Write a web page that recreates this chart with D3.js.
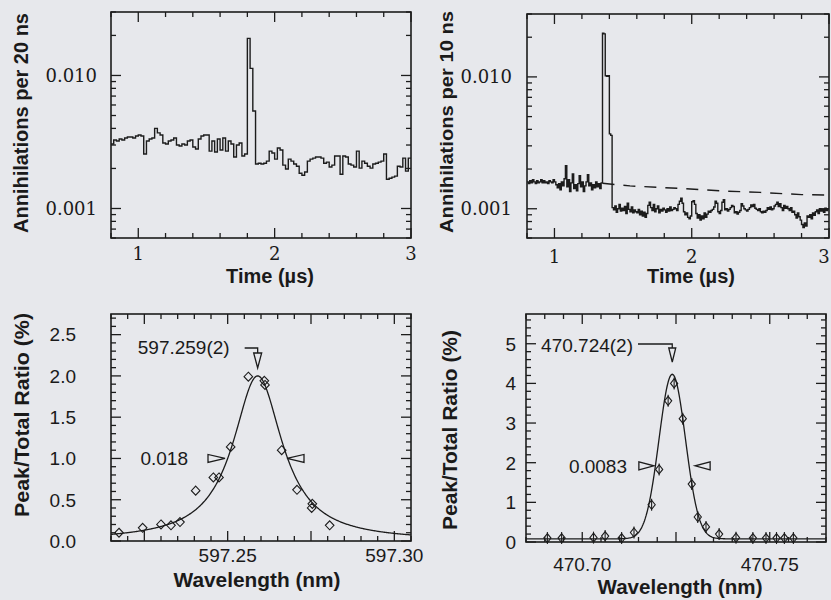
<!DOCTYPE html>
<html>
<head>
<meta charset="utf-8">
<title>annihilation spectra</title>
<style>
  html, body { margin: 0; padding: 0; background: #e7e8ec; }
  svg { display: block; }
  .title { font-family: "Liberation Sans", Arial, sans-serif; font-weight: bold; fill: #1a1a1a; }
  .serif { font-family: "DejaVu Serif", serif; font-size: 18px; fill: #1a1a1a; }
  .sans { font-family: "Liberation Sans", Arial, sans-serif; font-size: 19px; fill: #1a1a1a; }
</style>
</head>
<body>
<svg width="831" height="600"></svg>
<script src="https://cdn.jsdelivr.net/npm/d3@7"></script>
<script>
// top left: annihilations per 20 ns bin, from 0.8 us
const binA = 0.02, startA = 0.8;
const countsA = [
  0.00305, 0.00327, 0.00322, 0.00333, 0.00327, 0.00339, 0.00345, 0.00345, 0.00339, 0.00351,
  0.00357, 0.00351, 0.00257, 0.00322, 0.00333, 0.00339, 0.00400, 0.00370, 0.00357, 0.00311,
  0.00305, 0.00322, 0.00327, 0.00339, 0.00300, 0.00295, 0.00305, 0.00300, 0.00322, 0.00327,
  0.00290, 0.00280, 0.00333, 0.00351, 0.00357, 0.00357, 0.00270, 0.00322, 0.00266, 0.00333,
  0.00275, 0.00339, 0.00270, 0.00322, 0.00305, 0.00244, 0.00300, 0.00311, 0.00248, 0.00257,
  0.0190, 0.0113, 0.0054,
  0.00216, 0.00219, 0.00216, 0.00219, 0.00227, 0.00270, 0.00261, 0.00235, 0.00285, 0.00275,
  0.00212, 0.00198, 0.00235, 0.00227, 0.00216, 0.00208, 0.00184, 0.00178, 0.00188, 0.00227,
  0.00235, 0.00239, 0.00244, 0.00244, 0.00239, 0.00219, 0.00223, 0.00205, 0.00212, 0.00248,
  0.00248, 0.00181, 0.00248, 0.00244, 0.00216, 0.00212, 0.00205, 0.00270, 0.00201, 0.00227,
  0.00219, 0.00208, 0.00201, 0.00216, 0.00219, 0.00223, 0.00227, 0.00257, 0.00166, 0.00169,
  0.00172, 0.00175, 0.00208, 0.00205, 0.00239, 0.00191, 0.00239
];

// top right: annihilations per 10 ns bin, from 0.8 us
const binB = 0.01, startB = 0.8;
const countsB = [
  0.00160, 0.00155, 0.00163, 0.00157, 0.00166, 0.00160, 0.00155, 0.00163, 0.00157, 0.00160,
  0.00166, 0.00157, 0.00163, 0.00157, 0.00160, 0.00155, 0.00163, 0.00160, 0.00157, 0.00166,
  0.00160, 0.00152, 0.00144, 0.00155, 0.00139, 0.00160, 0.00149, 0.00169, 0.00212, 0.00147,
  0.00166, 0.00135, 0.00157, 0.00184, 0.00142, 0.00152, 0.00137, 0.00155, 0.00178, 0.00147,
  0.00160, 0.00135, 0.00149, 0.00160, 0.00181, 0.00149, 0.00157, 0.00139, 0.00152, 0.00144,
  0.00160, 0.00147, 0.00155, 0.00142, 0.00157,
  0.0215, 0.0212, 0.0102, 0.0101, 0.0102, 0.0037, 0.0036,
  0.00102, 0.00098, 0.00105, 0.00094, 0.00100, 0.00108, 0.00096, 0.00101,
  0.00097, 0.00104, 0.00092, 0.00110, 0.00099, 0.00095, 0.00103, 0.00093, 0.00098, 0.00095,
  0.00093, 0.00099, 0.00090, 0.00096, 0.00088, 0.00094, 0.00086, 0.00092, 0.00106, 0.00112,
  0.00102, 0.00097, 0.00108, 0.00095, 0.00100, 0.00105, 0.00093, 0.00099, 0.00096, 0.00101,
  0.00098, 0.00094, 0.00100, 0.00096, 0.00103, 0.00097, 0.00099, 0.00102, 0.00100, 0.00097,
  0.00108, 0.00114, 0.00120, 0.00110, 0.00095, 0.00090, 0.00093, 0.00086, 0.00084, 0.00088,
  0.00113, 0.00115, 0.00108, 0.00092, 0.00085, 0.00090, 0.00082, 0.00088, 0.00084, 0.00093,
  0.00086, 0.00091, 0.00096, 0.00094, 0.00097, 0.00099, 0.00103, 0.00114, 0.00110, 0.00095,
  0.00092, 0.00097, 0.00112, 0.00117, 0.00098, 0.00100, 0.00096, 0.00099, 0.00102, 0.00106,
  0.00104, 0.00093, 0.00095, 0.00091, 0.00094, 0.00097, 0.00109, 0.00105, 0.00100, 0.00098,
  0.00096, 0.00099, 0.00102, 0.00107, 0.00104, 0.00108, 0.00101, 0.00099, 0.00097, 0.00100,
  0.00095, 0.00093, 0.00096, 0.00094, 0.00097, 0.00102, 0.00099, 0.00103, 0.00098, 0.00100,
  0.00105, 0.00108, 0.00112, 0.00104, 0.00109, 0.00102, 0.00097, 0.00106, 0.00101, 0.00104,
  0.00100, 0.00097, 0.00102, 0.00094, 0.00096, 0.00090, 0.00085, 0.00093, 0.00087, 0.00082,
  0.00076, 0.00072, 0.00078, 0.00074, 0.00088, 0.00086, 0.00090, 0.00084, 0.00093, 0.00089,
  0.00095, 0.00098, 0.00092, 0.00100, 0.00096, 0.00099, 0.00094, 0.00101, 0.00097, 0.00100
];
// dashed reference level, top right
const refT = [1.35, 1.55, 1.95, 2.25, 2.5, 2.8, 3.0];
const refV = [0.00156, 0.00149, 0.00142, 0.00136, 0.00133, 0.00128, 0.00127];

// bottom left: measured peak/total ratio (%)
const wlC = [597.2174, 597.2245, 597.2300, 597.2330, 597.2357, 597.2404, 597.2457, 597.2474,
  597.2509, 597.2562, 597.2610, 597.2612, 597.2662, 597.2708, 597.2754, 597.2752, 597.2806];
const ratioC = [0.10, 0.16, 0.20, 0.19, 0.23, 0.61, 0.77, 0.77,
  1.14, 1.99, 1.94, 1.89, 1.10, 0.62, 0.45, 0.40, 0.19];
const fitC = { center: 597.259, fwhm: 0.018, peak: 2.0 };   // lorentzian fit

// bottom right
const wlD = [470.6907, 470.6945, 470.7030, 470.7061, 470.7105, 470.7138, 470.7185, 470.7205,
  470.7229, 470.7245, 470.7268, 470.7292, 470.7308, 470.7330, 470.7365, 470.7410, 470.7455,
  470.7490, 470.7518, 470.7539, 470.7563];
const ratioD = [0.10, 0.10, 0.11, 0.15, 0.10, 0.24, 0.94, 1.83,
  3.56, 4.00, 3.11, 1.46, 0.63, 0.38, 0.20, 0.11, 0.10,
  0.10, 0.10, 0.10, 0.10];
const fitD = { center: 470.724, fwhm: 0.0083, peak: 4.15, base: 0.08 };   // gaussian fit

// ticks / labels
const timeLabels = [1, 2, 3];
const countLabels = [0.001, 0.01];
const ratioLabelsC = [0, 0.5, 1.0, 1.5, 2.0, 2.5];
const ratioLabelsD = [0, 1, 2, 3, 4, 5];
const wlMajorC = [597.225, 597.25, 597.275, 597.30];
const wlLabelsC = [597.25, 597.30];
const wlMajorD = [470.70, 470.725, 470.75];
const wlLabelsD = [470.70, 470.75];
</script>
<script>
const svg = d3.select('svg');
const ink = '#1c1c1c';
const paper = '#e7e8ec';

// panel boxes in px
const A = { x0: 111, x1: 411, y0: 12, y1: 238 };
const B = { x0: 527, x1: 829, y0: 14, y1: 238 };
const C = { x0: 111, x1: 411, y0: 314, y1: 541 };
const D = { x0: 526, x1: 826, y0: 314, y1: 542 };

const near = (a, b) => Math.abs(a - b) < 1e-6;
const steps = (a, b, s) => d3.range(0, Math.round((b - a) / s) + 1).map((i) => a + i * s);

// box with inward ticks on all four sides
function frame(p, x, y, xt, yt) {
  const g = svg.append('g').attr('stroke', ink).attr('fill', 'none');
  xt.forEach(([v, len]) => {
    const px = x(v);
    g.append('line').attr('x1', px).attr('x2', px).attr('y1', p.y1).attr('y2', p.y1 - len).attr('stroke-width', 1.3);
    g.append('line').attr('x1', px).attr('x2', px).attr('y1', p.y0).attr('y2', p.y0 + len).attr('stroke-width', 1.3);
  });
  yt.forEach(([v, len]) => {
    const py = y(v);
    g.append('line').attr('y1', py).attr('y2', py).attr('x1', p.x0).attr('x2', p.x0 + len).attr('stroke-width', 1.3);
    g.append('line').attr('y1', py).attr('y2', py).attr('x1', p.x1).attr('x2', p.x1 - len).attr('stroke-width', 1.3);
  });
  g.append('rect')
    .attr('x', p.x0).attr('y', p.y0)
    .attr('width', p.x1 - p.x0).attr('height', p.y1 - p.y0)
    .attr('stroke-width', 1.6);
}

function title(txt, x, y, size, len, rotate) {
  const t = svg.append('text').attr('class', 'title')
    .attr('text-anchor', 'middle').style('font-size', size + 'px')
    .attr('transform', `translate(${x},${y})` + (rotate ? ' rotate(-90)' : ''))
    .text(txt);
  if (len) t.attr('textLength', len).attr('lengthAdjust', 'spacingAndGlyphs');
}

function histogram(p, x, y, start, bin, counts, id) {
  const pts = counts.map((v, i) => [start + i * bin, v]);
  pts.push([start + counts.length * bin, counts[counts.length - 1]]);
  svg.append('clipPath').attr('id', id).append('rect')
    .attr('x', p.x0).attr('y', p.y0).attr('width', p.x1 - p.x0).attr('height', p.y1 - p.y0);
  svg.append('path')
    .attr('clip-path', `url(#${id})`)
    .attr('d', d3.line().x((d) => x(d[0])).y((d) => y(d[1])).curve(d3.curveStepAfter)(pts))
    .attr('fill', 'none').attr('stroke', ink).attr('stroke-width', 1.4)
    .attr('stroke-linejoin', 'miter');
}

// ---------- top panels ----------
function timePanel(p, counts, start, bin, id) {
  const x = d3.scaleLinear().domain([0.8, 3.0]).range([p.x0, p.x1]);
  const y = d3.scaleLog().domain([0.0006, 0.03]).range([p.y1, p.y0]);
  const xt = steps(0.8, 3.0, 0.2).map((v) => [v, timeLabels.some((m) => near(m, v)) ? 10 : 5]);
  const yt = y.ticks().map((v) => [v, countLabels.some((m) => near(m, v)) ? 10 : 5]);
  frame(p, x, y, xt, yt);
  histogram(p, x, y, start, bin, counts, id);
  return { x, y };
}

const sa = timePanel(A, countsA, startA, binA, 'clipA');
const sb = timePanel(B, countsB, startB, binB, 'clipB');

svg.append('path')
  .attr('d', d3.line().x((d, i) => sb.x(refT[i])).y((d) => sb.y(d))(refV))
  .attr('fill', 'none').attr('stroke', ink).attr('stroke-width', 1.4)
  .attr('stroke-dasharray', '12,9');

[[A, sa, 97, 260], [B, sb, 512, 263]].forEach(([p, s, lx, by]) => {
  countLabels.forEach((v) => {
    svg.append('text').attr('class', 'serif').attr('text-anchor', 'end')
      .attr('x', lx).attr('y', s.y(v)).attr('dy', '0.36em').text(d3.format('.3f')(v));
  });
  timeLabels.forEach((v) => {
    svg.append('text').attr('class', 'serif').attr('text-anchor', 'middle')
      .attr('x', Math.min(s.x(v), 824)).attr('y', by).text(v);
  });
});

title('Annihilations per 20 ns', 28, 123, 20, 220, true);
title('Time (\u00b5s)', 270, 283, 20);
title('Annihilations per 10 ns', 453, 122, 19, 222, true);
title('Time (\u00b5s)', 691, 283, 20);

// ---------- bottom panels ----------
function diamond(w, h) {
  return `M0,${-h}L${w},0L0,${h}L${-w},0Z`;
}

// bottom left
const xc = d3.scaleLinear().domain([597.215, 597.305]).range([C.x0, C.x1]);
const yc = d3.scaleLinear().domain([0, 2.75]).range([C.y1, C.y0]);
frame(C, xc, yc,
  steps(597.215, 597.305, 0.005).map((v) => [v, wlMajorC.some((m) => near(m, v)) ? 10 : 5]),
  steps(0, 2.7, 0.1).map((v) => [v, ratioLabelsC.some((m) => near(m, v)) ? 10 : 5]));

const hwC = fitC.fwhm / 2;
const curveC = xc.ticks(300).concat([597.215, 597.305]).sort(d3.ascending)
  .map((w) => [w, fitC.peak / (1 + ((w - fitC.center) / hwC) ** 2)]);
svg.append('path')
  .attr('d', d3.line().x((d) => xc(d[0])).y((d) => yc(d[1]))(curveC))
  .attr('fill', 'none').attr('stroke', ink).attr('stroke-width', 1.3);

svg.append('g').selectAll('path').data(wlC).join('path')
  .attr('transform', (d, i) => `translate(${xc(d)},${yc(ratioC[i])})`)
  .attr('d', diamond(4.3, 4.5))
  .attr('fill', 'none').attr('stroke', ink).attr('stroke-width', 1.1);

ratioLabelsC.forEach((v) => {
  svg.append('text').attr('class', 'sans').attr('text-anchor', 'end')
    .attr('x', 76).attr('y', yc(v)).attr('dy', '0.36em').text(d3.format('.1f')(v));
});
wlLabelsC.forEach((v) => {
  svg.append('text').attr('class', 'sans').attr('text-anchor', 'middle')
    .attr('x', xc(v)).attr('y', 562).text(d3.format('.2f')(v));
});

// bottom right
const xd = d3.scaleLinear().domain([470.685, 470.765]).range([D.x0, D.x1]);
const yd = d3.scaleLinear().domain([0, 5.75]).range([D.y1, D.y0]);
frame(D, xd, yd,
  steps(470.685, 470.765, 0.005).map((v) => [v, wlMajorD.some((m) => near(m, v)) ? 10 : 5]),
  steps(0, 5.6, 0.2).map((v) => [v, ratioLabelsD.some((m) => near(m, v)) ? 10 : 5]));

const sigD = fitD.fwhm / (2 * Math.sqrt(2 * Math.LN2));
const curveD = xd.ticks(300).concat([470.685, 470.765]).sort(d3.ascending)
  .map((w) => [w, fitD.base + fitD.peak * Math.exp(-((w - fitD.center) ** 2) / (2 * sigD * sigD))]);
svg.append('path')
  .attr('d', d3.line().x((d) => xd(d[0])).y((d) => yd(d[1]))(curveD))
  .attr('fill', 'none').attr('stroke', ink).attr('stroke-width', 1.3);

const ptsD = svg.append('g').selectAll('g').data(wlD).join('g')
  .attr('transform', (d, i) => `translate(${xd(d)},${yd(ratioD[i])})`)
  .attr('stroke', ink).attr('fill', 'none').attr('stroke-width', 1.1);
ptsD.append('path').attr('d', diamond(3.6, 4.5));
ptsD.append('line').attr('y1', -6).attr('y2', 6);

ratioLabelsD.forEach((v) => {
  svg.append('text').attr('class', 'sans').attr('text-anchor', 'end')
    .attr('x', 516).attr('y', yd(v)).attr('dy', '0.36em').text(v);
});
wlLabelsD.forEach((v) => {
  svg.append('text').attr('class', 'sans').attr('text-anchor', 'middle')
    .attr('x', xd(v)).attr('y', 571).text(d3.format('.2f')(v));
});

title('Peak/Total Ratio (%)', 29, 415, 21, 204, true);
title('Wavelength (nm)', 257, 587, 21, 167);
title('Peak/Total Ratio (%)', 457, 430, 21, 200, true);
title('Wavelength (nm)', 680, 594, 21, 165);

// ---------- annotations ----------
function arrowDown(x, yTop, len, hw) {
  return `M${x - hw},${yTop}L${x + hw},${yTop}L${x},${yTop + len}Z`;
}
function arrowSide(xTip, y, len, hh, dir) {
  const xb = xTip - dir * len;
  return `M${xb},${y - hh}L${xb},${y + hh}L${xTip},${y}Z`;
}
const ann = svg.append('g').attr('stroke', ink).attr('stroke-width', 1.3);

// centre and width, bottom left
const cxC = xc(fitC.center);
ann.append('path').attr('d', `M${cxC - 13},348H${cxC}V353`).attr('fill', 'none');
ann.append('path').attr('d', arrowDown(cxC, 353, 15, 4)).attr('fill', paper);
svg.append('text').attr('class', 'sans').attr('text-anchor', 'end')
  .attr('x', cxC - 28).attr('y', 354).text('597.259(2)');
const hyC = yc(fitC.peak / 2);
ann.append('path').attr('d', arrowSide(xc(fitC.center - 0.0098), hyC, 17, 4, 1)).attr('fill', paper);
ann.append('path').attr('d', arrowSide(xc(fitC.center + 0.0088), hyC, 17, 4, -1)).attr('fill', paper);
svg.append('text').attr('class', 'sans').attr('text-anchor', 'end')
  .attr('x', 188).attr('y', hyC + 7).text('0.018');

// centre and width, bottom right
const cxD = xd(fitD.center);
ann.append('path').attr('d', `M638,344H${cxD}V348`).attr('fill', 'none');
ann.append('path').attr('d', arrowDown(cxD, 348, 14, 3.5)).attr('fill', paper);
svg.append('text').attr('class', 'sans').attr('text-anchor', 'end')
  .attr('x', 633).attr('y', 352).text('470.724(2)');
const hyD = yd(1.92);
ann.append('path').attr('d', arrowSide(xd(470.7191), hyD, 15, 4, 1)).attr('fill', paper);
ann.append('path').attr('d', arrowSide(xd(470.7301), hyD, 15, 4, -1)).attr('fill', paper);
svg.append('text').attr('class', 'sans').attr('text-anchor', 'end')
  .attr('x', 627).attr('y', hyD + 7).text('0.0083');
</script>
</body>
</html>
